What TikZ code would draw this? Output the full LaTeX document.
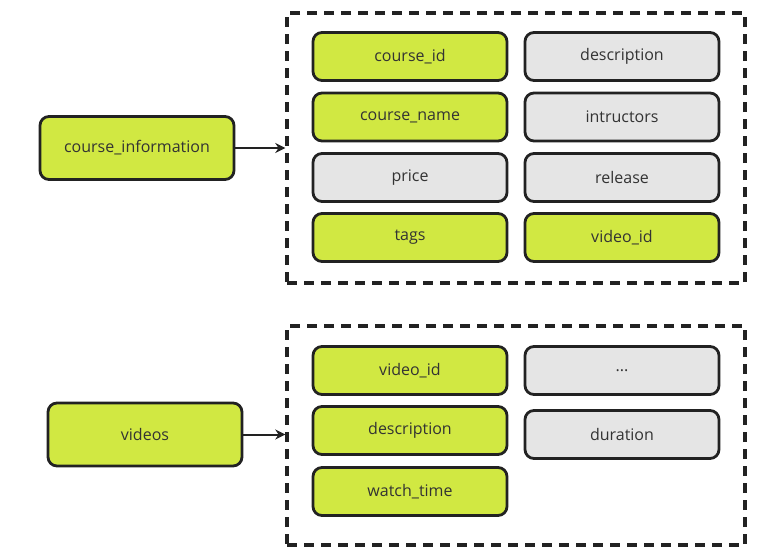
\documentclass[tikz,border=0pt]{standalone}
\usepackage{fontspec}
\setmainfont{Open Sans}
\usetikzlibrary{arrows.meta}
\definecolor{limefill}{HTML}{D1E842}
\definecolor{greyfill}{HTML}{E5E5E5}
\definecolor{edgecol}{HTML}{222222}
\definecolor{textcol}{HTML}{333333}
\begin{document}
\begin{tikzpicture}[x=1pt,y=-1pt,
  field/.style={draw=edgecol,line width=2.8pt,rounded corners=9pt,minimum width=194pt,minimum height=48pt,font=\fontsize{16}{18}\selectfont,text=textcol},
  keyfield/.style={field,fill=limefill},
  plainfield/.style={field,fill=greyfill},
  table/.style={keyfield,minimum height=63pt},
  group/.style={draw=edgecol,line width=3.4pt,dash pattern=on 10pt off 7pt,minimum width=458pt,inner sep=0pt},
  link/.style={draw=edgecol,line width=2pt,-{Stealth[length=10pt,width=10pt]}}]
\useasboundingbox (0,0) rectangle (782,555);

% Tables
\node[table] (courseinfo) at (137,148) {course\_information};
\node[table] (videos) at (145,434.5) {videos};

% Column groups
\node[group,minimum height=270pt] (coursecols) at (516,148) {};
\node[group,minimum height=219pt] (videocols) at (516,435.5) {};

% course_information columns
\node[keyfield] (cid) at (410,56.5) {course\_id};
\node[keyfield] (cname) at (410,117) {course\_name};
\node[plainfield] (price) at (410,177.5) {price};
\node[keyfield] (tags) at (410,237.5) {tags};
\node[plainfield] (desc) at (622,56.5) {description};
\node[plainfield] (instr) at (622,117) {intructors};
\node[plainfield] (release) at (622,177.5) {release};
\node[keyfield] (cvid) at (622,237.5) {video\_id};

% videos columns
\node[keyfield] (vid) at (410,370.5) {video\_id};
\node[keyfield] (vdesc) at (410,430.5) {description};
\node[keyfield] (watch) at (410,491.5) {watch\_time};
\node[plainfield] (more) at (622,370.5) {...};
\node[plainfield] (dur) at (622,434.5) {duration};

% Links
\draw[link] (courseinfo.east) -- (courseinfo.east -| coursecols.west);
\draw[link] (videos.east) -- (videos.east -| videocols.west);
\end{tikzpicture}
\end{document}
